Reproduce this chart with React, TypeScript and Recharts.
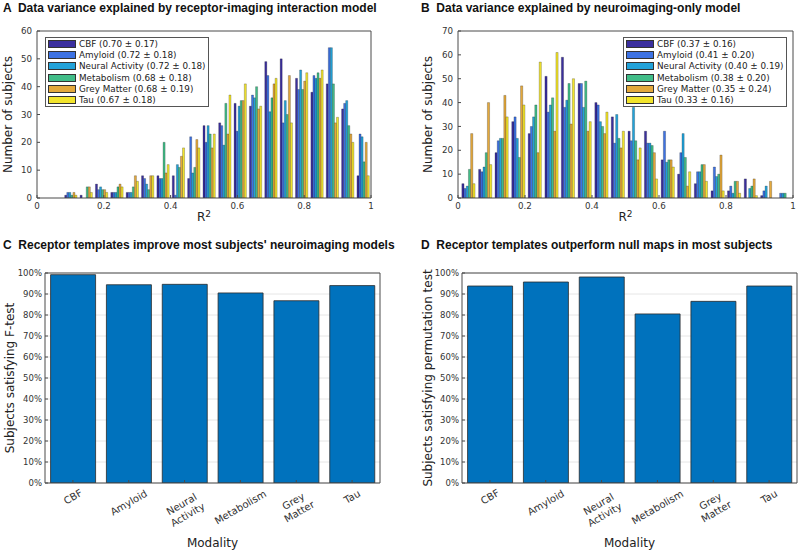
import React from 'react';
import { BarChart, Bar, XAxis, YAxis, Legend, CartesianGrid } from 'recharts';

// ---------- categories ----------
const modalities = ['CBF', 'Amyloid', 'Neural Activity', 'Metabolism', 'Grey Matter', 'Tau'];
const modalityTickLabels = ['CBF', 'Amyloid', 'Neural\nActivity', 'Metabolism', 'Grey\nMatter', 'Tau'];
const seriesKeys = ['cbf', 'amyloid', 'neural', 'metabolism', 'grey', 'tau'];
const seriesColors = ['#3b2f9e', '#3d72e3', '#22a2d9', '#41bd88', '#e4a93c', '#f2e42c'];

const interactionStats = ['0.70 ± 0.17', '0.72 ± 0.18', '0.72 ± 0.18', '0.68 ± 0.18', '0.68 ± 0.19', '0.67 ± 0.18'];
const imagingStats = ['0.37 ± 0.16', '0.41 ± 0.20', '0.40 ± 0.19', '0.38 ± 0.20', '0.35 ± 0.24', '0.33 ± 0.16'];

// ---------- panel A: receptor-imaging interaction model (R² bins) ----------
const binCentersInteraction = [0.100, 0.146, 0.192, 0.238, 0.284, 0.330, 0.376, 0.422, 0.468, 0.514,
  0.561, 0.607, 0.653, 0.699, 0.745, 0.791, 0.837, 0.883, 0.929, 0.975];
const cbfInteraction = [1, 1, 5, 2, 2, 8, 8, 8, 7, 26, 27, 34, 33, 49, 50, 43, 38, 41, 32, 8];
const amyloidInteraction = [2, 0, 3, 2, 2, 7, 7, 1, 22, 20, 26, 24, 37, 44, 27, 39, 44, 54, 34, 23];
const neuralInteraction = [2, 0, 4, 2, 2, 5, 7, 12, 9, 26, 19, 33, 36, 31, 35, 46, 43, 54, 35, 22];
const metabolismInteraction = [1, 4, 3, 4, 4, 3, 20, 11, 11, 23, 34, 35, 40, 36, 30, 39, 45, 41, 26, 13];
const greyInteraction = [2, 4, 3, 5, 8, 8, 9, 15, 21, 18, 23, 35, 32, 41, 44, 42, 43, 27, 23, 20];
const tauInteraction = [1, 2, 2, 4, 6, 8, 12, 18, 18, 23, 37, 41, 33, 43, 27, 45, 46, 29, 20, 8];

// ---------- panel B: neuroimaging-only model (R² bins) ----------
const binCentersImaging = [0.030, 0.080, 0.129, 0.179, 0.228, 0.278, 0.327, 0.377, 0.427, 0.476,
  0.526, 0.575, 0.625, 0.674, 0.724, 0.774, 0.823, 0.873, 0.922, 0.972];
const cbfImaging = [6, 12, 19, 32, 27, 51, 59, 48, 40, 34, 28, 28, 16, 10, 6, 3, 3, 8, 1, 0];
const amyloidImaging = [4, 11, 24, 34, 30, 36, 38, 48, 39, 23, 24, 23, 28, 19, 11, 13, 5, 0, 3, 2];
const neuralImaging = [5, 13, 25, 25, 34, 39, 41, 38, 32, 35, 38, 23, 15, 27, 11, 9, 2, 4, 5, 2];
const metabolismImaging = [12, 19, 25, 17, 39, 42, 48, 49, 30, 25, 24, 22, 16, 17, 14, 10, 7, 5, 0, 2];
const greyImaging = [27, 40, 43, 47, 19, 28, 31, 28, 27, 21, 16, 19, 16, 5, 14, 18, 7, 8, 7, 0];
const tauImaging = [6, 14, 34, 39, 57, 61, 50, 32, 36, 28, 21, 8, 13, 11, 7, 3, 2, 1, 0, 0];

// ---------- panels C & D ----------
const fTestPercent = [99.2, 94.4, 94.6, 90.5, 86.8, 94.0];
const permutationPercent = [93.8, 95.7, 98.1, 80.5, 86.5, 93.8];

// ---------- ticks ----------
const histXTicks = [0, 0.2, 0.4, 0.6, 0.8, 1];
const interactionYTicks = [0, 10, 20, 30, 40, 50, 60];
const imagingYTicks = [0, 10, 20, 30, 40, 50, 60, 70];
const percentTicks = [0, 10, 20, 30, 40, 50, 60, 70, 80, 90, 100];

// ---------- tables ----------
const buildHistRows = (centers: number[], series: number[][]) =>
  centers.map((x, i) => {
    const row: any = { x };
    seriesKeys.forEach((k, s) => { row[k] = series[s][i]; });
    return row;
  });

const interactionRows = buildHistRows(binCentersInteraction, [
  cbfInteraction, amyloidInteraction, neuralInteraction, metabolismInteraction, greyInteraction, tauInteraction,
]);
const imagingRows = buildHistRows(binCentersImaging, [
  cbfImaging, amyloidImaging, neuralImaging, metabolismImaging, greyImaging, tauImaging,
]);
const fTestRows = modalities.map((m, i) => ({ modality: m, value: fTestPercent[i] }));
const permutationRows = modalities.map((m, i) => ({ modality: m, value: permutationPercent[i] }));

// ---------- styles ----------
const AXIS = '#4a4a4a';
const TICK_TEXT = '#333';
const FONT = '"DejaVu Sans", Verdana, sans-serif';

const HistLegend = ({ stats }: { stats: string[] }) => (
  <div style={{
    background: '#fff', border: '1px solid #555', padding: '0 2px 0 2px',
    fontFamily: FONT, fontSize: 8.8, color: '#222', boxSizing: 'border-box',
  }}>
    {modalities.map((m, i) => (
      <div key={m} style={{ display: 'flex', alignItems: 'center', height: 11.3, whiteSpace: 'nowrap' }}>
        <span style={{
          display: 'inline-block', width: 28, height: 8, background: seriesColors[i],
          border: '1px solid #333', boxSizing: 'border-box', marginRight: 3,
        }} />
        <span>{`${m} (${stats[i]})`}</span>
      </div>
    ))}
  </div>
);

const yLabelRenderer = (text: string, dx: number) => (props: any) => {
  const vb = props.viewBox || {};
  const cx = (vb.x || 0) + dx;
  const cy = (vb.y || 0) + (vb.height || 0) / 2;
  return (
    <text x={cx} y={cy} transform={`rotate(-90, ${cx}, ${cy})`} textAnchor="middle"
      dominantBaseline="central" fontSize={12} fill="#222" fontFamily={FONT}>{text}</text>
  );
};

const xLabelRenderer = (text: any, dy: number) => (props: any) => {
  const vb = props.viewBox || {};
  const cx = (vb.x || 0) + (vb.width || 0) / 2;
  return (
    <text x={cx} y={(vb.y || 0) + dy} textAnchor="middle" fontSize={12} fill="#222" fontFamily={FONT}>{text}</text>
  );
};

function Histogram(props: {
  rows: any[]; yMax: number; yTicks: number[]; stats: string[];
  leftW: number; rightM: number; legendLeft: number; barSize: number;
}) {
  const { rows, yMax, yTicks, stats, leftW, rightM, legendLeft, barSize } = props;
  return (
    <BarChart width={400} height={230} data={rows} barGap={0} barSize={barSize}
      margin={{ top: 30, right: rightM, left: 0, bottom: 0 }}>
      <XAxis dataKey="x" type="number" domain={[0, 1]} ticks={histXTicks} allowDataOverflow interval={0}
        tickFormatter={(v: number) => String(v)} height={32} tickSize={-3} tickMargin={8}
        stroke={AXIS} tick={{ fill: TICK_TEXT, fontSize: 8.7, fontFamily: FONT }}
        label={{ content: xLabelRenderer(<>R<tspan dy={-4} fontSize={9}>2</tspan></>, 23) }} />
      <XAxis xAxisId="top" orientation="top" dataKey="x" type="number" domain={[0, 1]} ticks={histXTicks}
        allowDataOverflow interval={0} height={1} tickSize={-3} tick={false} stroke={AXIS} />
      <YAxis type="number" domain={[0, yMax]} ticks={yTicks} allowDataOverflow interval={0} width={leftW}
        tickSize={-3} tickMargin={8} stroke={AXIS} tick={{ fill: TICK_TEXT, fontSize: 8.7, fontFamily: FONT }}
        label={{ content: yLabelRenderer('Number of subjects', leftW === 37 ? 8 : 28) }} />
      <YAxis yAxisId="right" orientation="right" type="number" domain={[0, yMax]} ticks={yTicks}
        allowDataOverflow interval={0} width={1} tickSize={-3} tick={false} stroke={AXIS} />
      <Legend layout="vertical" align="center" verticalAlign="middle"
        wrapperStyle={{ left: legendLeft, top: 37, width: 'auto', height: 'auto' }}
        content={() => <HistLegend stats={stats} />} />
      {seriesKeys.map((k, i) => (
        <Bar key={k} dataKey={k} name={`${modalities[i]} (${stats[i]})`} fill={seriesColors[i]}
          stroke="#000" strokeOpacity={0.45} strokeWidth={0.5} isAnimationActive={false} />
      ))}
    </BarChart>
  );
}

const ModalityTick = (props: any) => {
  const { x, y, payload } = props;
  const idx = modalities.indexOf(payload.value);
  const label = idx >= 0 ? modalityTickLabels[idx] : String(payload.value);
  const lines = label.split('\n');
  const fs = 10;
  const lh = 12;
  const w = Math.max(...lines.map((l) => l.length)) * fs * 0.6;
  const h = lines.length * lh;
  const boxH = w * 0.5 + h * 0.866;
  const cy = y + boxH / 2;
  return (
    <g transform={`translate(${x},${cy}) rotate(-30)`}>
      {lines.map((l, i) => (
        <text key={i} x={0} y={(i - (lines.length - 1) / 2) * lh} dy="0.35em" textAnchor="middle"
          fontSize={fs} fill={TICK_TEXT} fontFamily={FONT}>{l}</text>
      ))}
    </g>
  );
};

function PercentBars(props: { rows: any[]; yLabel: string; leftW: number; rightM: number; labelDx: number }) {
  const { rows, yLabel, leftW, rightM, labelDx } = props;
  return (
    <BarChart width={400} height={324} data={rows} barCategoryGap="10%"
      margin={{ top: 42, right: rightM, left: 0, bottom: 0 }}>
      <CartesianGrid vertical={false} stroke="#e6e6e6" />
      <XAxis dataKey="modality" type="category" interval={0} height={71} tickSize={-3} tickMargin={7}
        stroke={AXIS} tick={<ModalityTick />}
        label={{ content: xLabelRenderer('Modality', 64) }} />
      <XAxis xAxisId="top" orientation="top" dataKey="modality" type="category" interval={0} height={1}
        tickSize={-3} tick={false} stroke={AXIS} />
      <YAxis type="number" domain={[0, 100]} ticks={percentTicks} allowDataOverflow interval={0} width={leftW}
        tickSize={-3} tickMargin={6} tickFormatter={(v: number) => `${v}%`} stroke={AXIS}
        tick={{ fill: TICK_TEXT, fontSize: 8.5, fontFamily: FONT }}
        label={{ content: yLabelRenderer(yLabel, labelDx) }} />
      <YAxis yAxisId="right" orientation="right" type="number" domain={[0, 100]} ticks={percentTicks}
        allowDataOverflow interval={0} width={1} tickSize={-3} tick={false} stroke={AXIS} />
      <Bar dataKey="value" fill="#0072BD" stroke="#2b2b2b" strokeWidth={0.8} isAnimationActive={false} />
    </BarChart>
  );
}

const titleStyle = (left: number, top: number): React.CSSProperties => ({
  position: 'absolute', left, top, fontFamily: '"Liberation Sans", Arial, sans-serif',
  fontWeight: 'bold', fontSize: 12, lineHeight: '12px', whiteSpace: 'pre', color: '#111',
});

export default function App() {
  return (
    <div style={{
      position: 'absolute', left: 0, top: 0, width: 800, height: 554, background: '#fff',
      overflow: 'hidden', fontFamily: FONT,
    }}>
      <div style={{ position: 'absolute', left: 0, top: 0 }}>
        <Histogram rows={interactionRows} yMax={60} yTicks={interactionYTicks} stats={interactionStats}
          leftW={37} rightM={28} legendLeft={45} barSize={2.05} />
      </div>
      <div style={{ position: 'absolute', left: 400, top: 0 }}>
        <Histogram rows={imagingRows} yMax={70} yTicks={imagingYTicks} stats={imagingStats}
          leftW={58} rightM={6} legendLeft={223} barSize={2.2} />
      </div>
      <div style={{ position: 'absolute', left: 0, top: 230 }}>
        <PercentBars rows={fTestRows} yLabel="Subjects satisfying F-test" leftW={45} rightM={19} labelDx={10} />
      </div>
      <div style={{ position: 'absolute', left: 400, top: 230 }}>
        <PercentBars rows={permutationRows} yLabel="Subjects satisfying permutation test" leftW={62} rightM={2} labelDx={28} />
      </div>
      <div style={titleStyle(3, 2)}>{'A  Data variance explained by receptor-imaging interaction model'}</div>
      <div style={titleStyle(421, 2)}>{'B  Data variance explained by neuroimaging-only model'}</div>
      <div style={titleStyle(3, 239)}>{"C  Receptor templates improve most subjects' neuroimaging models"}</div>
      <div style={titleStyle(421, 239)}>{'D  Receptor templates outperform null maps in most subjects'}</div>
    </div>
  );
}
